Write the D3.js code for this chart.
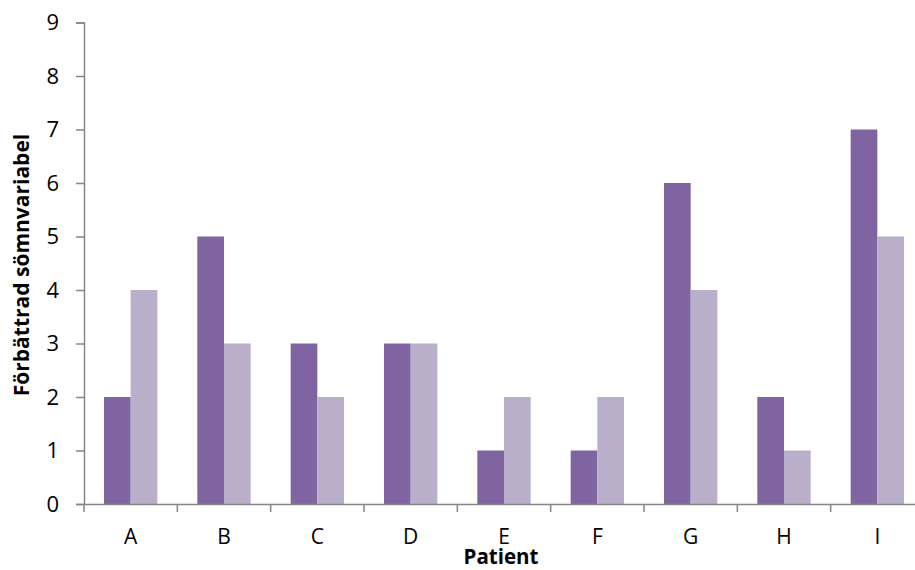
<!DOCTYPE html>
<html>
<head>
<meta charset="utf-8">
<script src="https://cdn.jsdelivr.net/npm/d3@7"></script>
<style>
  html, body { margin: 0; padding: 0; background: #fff; }
  svg { display: block; font-family: "Open Sans", sans-serif; }
</style>
</head>
<body>
<svg id="chart" width="915" height="570"></svg>
<script>
const categories = ["A", "B", "C", "D", "E", "F", "G", "H", "I"];
const series1 = [2, 5, 3, 3, 1, 1, 6, 2, 7];
const series2 = [4, 3, 2, 3, 2, 2, 4, 1, 5];
const yTicks = [0, 1, 2, 3, 4, 5, 6, 7, 8, 9];
const xTitle = "Patient";
const yTitle = "Förbättrad sömnvariabel";

const seriesNames = ["s1", "s2"];
const colors = { s1: "#8064A2", s2: "#B9AFCB" };
const data = categories.map((c, i) => ({ cat: c, s1: series1[i], s2: series2[i] }));

const svg = d3.select("#chart");
const plotL = 84, plotR = 924, plotT = 22.5, plotB = 504;

const y = d3.scaleLinear().domain([0, 9]).range([plotB, plotT]);
const x0 = d3.scaleBand().domain(categories).range([plotL, plotR]).padding(0);
const x1 = d3.scaleBand().domain(seriesNames).range([0, x0.bandwidth()]).paddingInner(0).paddingOuter(0.75);

// bars
const g = svg.append("g");
g.selectAll("g.cat").data(data).join("g")
  .attr("class", "cat")
  .attr("transform", d => `translate(${x0(d.cat)},0)`)
  .selectAll("rect")
  .data(d => seriesNames.map(k => ({ k, v: d[k] })))
  .join("rect")
  .attr("x", d => x1(d.k))
  .attr("y", d => y(d.v))
  .attr("width", x1.bandwidth())
  .attr("height", d => y(0) - y(d.v))
  .attr("fill", d => colors[d.k]);

// y axis
const yAxis = d3.axisLeft(y).tickValues(yTicks).tickSize(8).tickPadding(17).tickFormat(d3.format("d"));
const ya = svg.append("g").attr("transform", `translate(${plotL},0)`).call(yAxis);
ya.select(".domain").attr("stroke", "#868686").attr("stroke-width", 1.5);
ya.selectAll(".tick line").attr("stroke", "#868686").attr("stroke-width", 1.5);
ya.selectAll(".tick text").attr("font-size", 22).attr("fill", "#000").attr("font-family", "Open Sans");

// x axis
const xAxis = d3.axisBottom(x0).tickSize(0).tickPadding(25);
const xa = svg.append("g").attr("transform", `translate(0,${plotB})`).call(xAxis);
xa.select(".domain").attr("stroke", "#868686").attr("stroke-width", 1.5);
xa.selectAll(".tick text").attr("font-size", 21).attr("fill", "#000").attr("font-family", "Open Sans");
// boundary tick marks
xa.selectAll("line.bound").data(categories.map(c => x0(c)).concat([plotR]))
  .join("line").attr("class", "bound")
  .attr("x1", d => d).attr("x2", d => d)
  .attr("y1", 0).attr("y2", 8)
  .attr("stroke", "#868686").attr("stroke-width", 1.5);

// titles
svg.append("text")
  .attr("x", (plotL + plotR) / 2 - 3).attr("y", 564)
  .attr("text-anchor", "middle")
  .attr("font-size", 20.5).attr("font-weight", "bold")
  .text(xTitle);

svg.append("text")
  .attr("transform", `translate(29,265) rotate(-90)`)
  .attr("text-anchor", "middle")
  .attr("font-size", 21).attr("font-weight", "bold")
  .text(yTitle);
</script>
</body>
</html>
